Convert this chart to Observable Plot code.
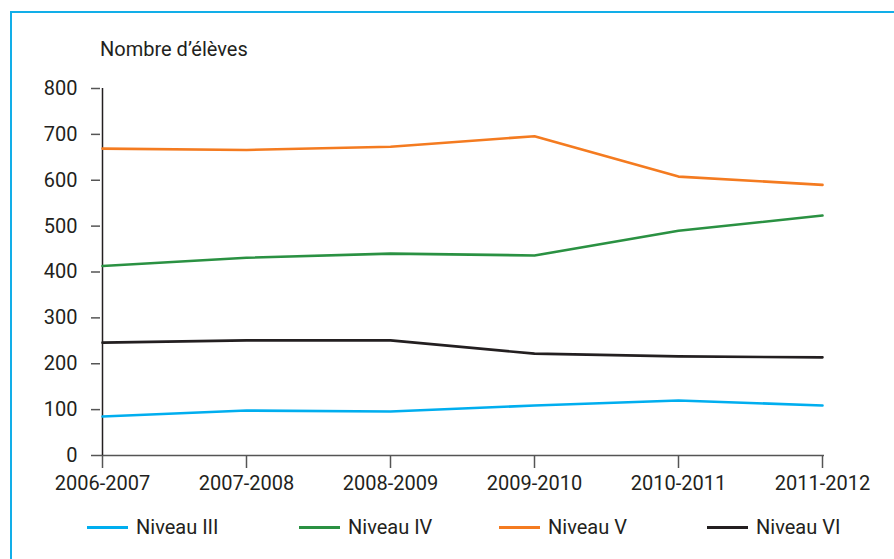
<!DOCTYPE html>
<html><head><meta charset="utf-8">
<script src="https://cdn.jsdelivr.net/npm/d3@7"></script>
<script src="https://cdn.jsdelivr.net/npm/@observablehq/plot@0.6"></script>
<style>
body{margin:0;background:#fff;font-family:Roboto,sans-serif;color:#231f20;}
#wrap{position:relative;width:894px;height:559px;overflow:hidden;}
#frame{position:absolute;left:10px;top:11px;width:900px;height:600px;border:2px solid #12aee8;box-sizing:border-box;}
#title{position:absolute;left:100px;top:37px;font-size:20px;}
#legend{position:absolute;top:515px;left:0;width:894px;height:26px;font-size:20px;}
.item{position:absolute;display:flex;align-items:center;}
.sw{width:41px;height:3px;margin-right:8px;}
#chart{position:absolute;left:0;top:0;}
</style></head>
<body><div id="wrap"><div id="frame"></div><div id="title">Nombre d’élèves</div><div id="chart"></div><div id="legend"></div></div>
<script>
const years = ["2006-2007","2007-2008","2008-2009","2009-2010","2010-2011","2011-2012"];
const seriesNames = ["Niveau III","Niveau IV","Niveau V","Niveau VI"];
const niveauIII = [85, 98, 96, 109, 120, 109];
const niveauIV = [413, 431, 440, 436, 490, 523];
const niveauV = [669, 666, 673, 696, 608, 590];
const niveauVI = [246, 251, 251, 222, 216, 214];
const colors = ["#00aeef","#2a9142","#f47b20","#231f20"];
const yTicks = [0,100,200,300,400,500,600,700,800];

const allSeries = [niveauIII, niveauIV, niveauV, niveauVI];
const data = [];
allSeries.forEach((vals, i) => vals.forEach((v, j) => data.push({year: years[j], value: v, series: seriesNames[i]})));

const chart = Plot.plot({
  width: 894, height: 559,
  marginLeft: 100, marginRight: 70, marginTop: 88, marginBottom: 104,
  style: {fontFamily: "Roboto, sans-serif", fontSize: "20px", color: "#231f20", background: "transparent"},
  x: {type: "point", domain: years, padding: 0, label: null},
  y: {domain: [0, 800], label: null},
  color: {domain: seriesNames, range: colors},
  marks: [
    Plot.axisY({ticks: yTicks, tickSize: 9, tickPadding: 14, stroke: "#555", strokeWidth: 1.5, label: null}),
    Plot.axisX({tickSize: 13, tickPadding: 7, stroke: "#555", strokeWidth: 1.5, label: null}),
    Plot.ruleY([0], {stroke: "#555", strokeWidth: 1.5}),
    Plot.ruleX([years[0]], {y1: 0, y2: 800, stroke: "#231f20", strokeWidth: 1.5}),
    Plot.line(data, {x: "year", y: "value", z: "series", stroke: "series", strokeWidth: 2.6})
  ]
});
document.getElementById("chart").appendChild(chart);

const legendX = [87, 299, 499, 707];
const legend = document.getElementById("legend");
seriesNames.forEach((name, i) => {
  const d = document.createElement("div");
  d.className = "item";
  d.style.left = legendX[i] + "px";
  d.innerHTML = `<span class="sw" style="background:${colors[i]}"></span><span>${name}</span>`;
  legend.appendChild(d);
});
</script></body></html>
